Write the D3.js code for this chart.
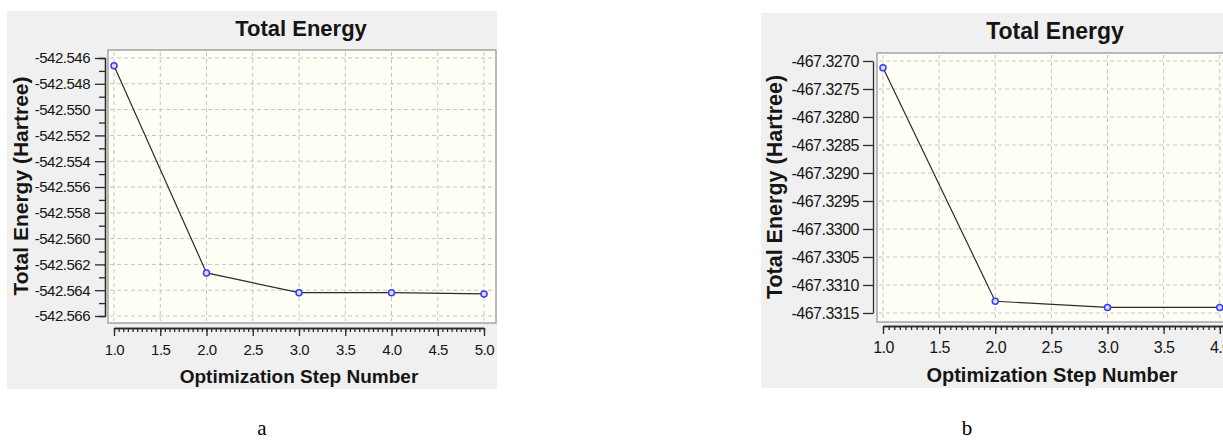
<!DOCTYPE html>
<html>
<head>
<meta charset="utf-8">
<script src="https://cdn.jsdelivr.net/npm/d3@7"></script>
<style>
    body { margin: 0; background: #fff; }
    text { font-family: "Liberation Sans", Arial, sans-serif; fill: #151515; }
</style>
</head>
<body>
<svg id="fig" width="1223" height="440"></svg>
<script>
// panel a
const stepsA = [1, 2, 3, 4, 5];
const energyA = [-542.5466, -542.56266, -542.56419, -542.56419, -542.56429];
const yTicksA = [-542.546, -542.548, -542.550, -542.552, -542.554, -542.556, -542.558, -542.560, -542.562, -542.564, -542.566];
const xTicksA = [1.0, 1.5, 2.0, 2.5, 3.0, 3.5, 4.0, 4.5, 5.0];

// panel b (right edge of the picture cuts it after step 4)
const stepsB = [1, 2, 3, 4];
const energyB = [-467.32712, -467.33129, -467.33140, -467.33140];
const yTicksB = [-467.3270, -467.3275, -467.3280, -467.3285, -467.3290, -467.3295, -467.3300, -467.3305, -467.3310, -467.3315];
const xTicksB = [1.0, 1.5, 2.0, 2.5, 3.0, 3.5, 4.0, 4.5, 5.0];

class EnergyChart {
    constructor(config, steps, energy) {
        this.config = config;
        this.steps = steps;
        this.energy = energy;
        this.init();
        this.render();
    }

    init() {
        let self = this;
        let c = self.config;
        self.g = d3.select('#fig').append('g');

        // grey window background
        self.g.append('rect')
            .attr('x', c.bg[0]).attr('y', c.bg[1])
            .attr('width', c.bg[2]).attr('height', c.bg[3])
            .attr('fill', '#f0f0f0');

        // plot area
        self.g.append('rect')
            .attr('x', c.plot[0]).attr('y', c.plot[1])
            .attr('width', c.plot[2]).attr('height', c.plot[3])
            .attr('fill', '#fffff6')
            .attr('stroke', '#a4a4a4')
            .attr('stroke-width', 1.5);

        self.xscale = d3.scaleLinear().domain(c.xdomain).range(c.xrange);
        self.yscale = d3.scaleLinear().domain(c.ydomain).range(c.yrange);
    }

    render() {
        let self = this;
        let c = self.config;

        // dashed grid
        let grid = self.g.append('g')
            .attr('stroke', '#c4c4c4')
            .attr('stroke-dasharray', '4,3')
            .attr('stroke-width', 1);
        grid.selectAll('.gx')
            .data(c.xticks)
            .join('line')
            .attr('x1', d => self.xscale(d)).attr('x2', d => self.xscale(d))
            .attr('y1', c.plot[1] + 2).attr('y2', c.plot[1] + c.plot[3] - 2);
        grid.selectAll('.gy')
            .data(c.yticks)
            .join('line')
            .attr('y1', d => self.yscale(d)).attr('y2', d => self.yscale(d))
            .attr('x1', c.plot[0] + 2).attr('x2', c.plot[0] + c.plot[2] - 2);

        // y axis
        if (c.yminor) {
            let yminor = d3.axisLeft(self.yscale)
                .tickValues(c.yminor)
                .tickSize(6)
                .tickFormat('');
            self.g.append('g')
                .attr('transform', `translate(${c.yaxisX}, 0)`)
                .call(yminor);
        }
        const fmt = d3.format(c.yfmt);
        let yaxis = d3.axisLeft(self.yscale)
            .tickValues(c.yticks)
            .tickSize(10)
            .tickSizeOuter(0)
            .tickPadding(c.ypad)
            .tickFormat(d => fmt(d).replace('\u2212', '-'));
        self.g.append('g')
            .attr('transform', `translate(${c.yaxisX}, 0)`)
            .call(yaxis);

        // x axis
        let xminor = d3.axisBottom(self.xscale)
            .tickValues(d3.range(c.xdomain[0], c.xdomain[1] + 0.001, 0.05))
            .tickSize(4)
            .tickSizeOuter(0)
            .tickFormat('');
        self.g.append('g')
            .attr('transform', `translate(0, ${c.xaxisY})`)
            .call(xminor);
        let xaxis = d3.axisBottom(self.xscale)
            .tickValues(c.xticks)
            .tickSize(8)
            .tickSizeOuter(0)
            .tickPadding(c.xpad)
            .tickFormat(d3.format('.1f'));
        self.g.append('g')
            .attr('transform', `translate(0, ${c.xaxisY})`)
            .call(xaxis);

        self.g.selectAll('.domain, .tick line')
            .attr('stroke', '#2a2a2a')
            .attr('stroke-width', 1.3);
        self.g.selectAll('.tick text')
            .attr('fill', '#151515')
            .style('font-family', '"Liberation Sans", Arial, sans-serif')
            .style('font-size', c.tickFont + 'px')
            .style('letter-spacing', '-0.5px');

        // energy line and markers
        let pts = self.steps.map((s, i) => [s, self.energy[i]]);
        self.g.append('path')
            .datum(pts)
            .attr('fill', 'none')
            .attr('stroke', '#2b2b2b')
            .attr('stroke-width', 1.2)
            .attr('d', d3.line().x(d => self.xscale(d[0])).y(d => self.yscale(d[1])));
        self.g.selectAll('.pt')
            .data(pts)
            .join('circle')
            .attr('cx', d => self.xscale(d[0]))
            .attr('cy', d => self.yscale(d[1]))
            .attr('r', 3)
            .attr('fill', '#dcdcff')
            .attr('stroke', '#3a3aff')
            .attr('stroke-width', 1.5);

        // titles
        self.g.append('text')
            .attr('x', c.title[0]).attr('y', c.title[1])
            .attr('text-anchor', 'middle').attr('dominant-baseline', 'central')
            .style('font-weight', 'bold').style('font-size', c.title[2] + 'px')
            .text('Total Energy');
        self.g.append('text')
            .attr('x', c.xlabel[0]).attr('y', c.xlabel[1])
            .attr('text-anchor', 'middle').attr('dominant-baseline', 'central')
            .style('font-weight', 'bold').style('font-size', c.xlabel[2] + 'px')
            .text('Optimization Step Number');
        self.g.append('text')
            .attr('transform', `translate(${c.ylabel[0]}, ${c.ylabel[1]}) rotate(-90)`)
            .attr('text-anchor', 'middle').attr('dominant-baseline', 'central')
            .style('font-weight', 'bold').style('font-size', c.ylabel[2] + 'px')
            .text('Total Energy (Hartree)');

        // caption under the panel
        self.g.append('text')
            .attr('x', c.caption[0]).attr('y', c.caption[1])
            .attr('text-anchor', 'middle')
            .style('font-family', '"Liberation Serif", "Times New Roman", serif')
            .style('font-size', '21px')
            .style('fill', '#000')
            .text(c.caption[2]);
    }
}

new EnergyChart({
    bg: [7, 11, 490, 378],
    plot: [108, 50, 388, 273],
    xdomain: [1, 5], xrange: [114, 484],
    ydomain: [-542.566, -542.546], yrange: [316, 58],
    xticks: xTicksA, yticks: yTicksA,
    yminor: yTicksA.slice(1).map((d, i) => (d + yTicksA[i]) / 2),
    yaxisX: 105, xaxisY: 328,
    ypad: 5, xpad: 8, yfmt: '.3f', tickFont: 15,
    title: [301, 28, 22],
    xlabel: [299, 376, 19],
    ylabel: [20, 186, 21],
    caption: [262, 435, 'a']
}, stepsA, energyA);

new EnergyChart({
    bg: [761, 13, 480, 375],
    plot: [877, 53, 460, 269],
    xdomain: [1, 5], xrange: [883, 1332],
    ydomain: [-467.3315, -467.3270], yrange: [313, 61],
    xticks: xTicksB, yticks: yTicksB,
    yminor: null,
    yaxisX: 873, xaxisY: 326,
    ypad: 4, xpad: 8, yfmt: '.4f', tickFont: 16,
    title: [1055, 31, 23],
    xlabel: [1052, 375, 20],
    ylabel: [775, 187, 21.5],
    caption: [967, 435, 'b']
}, stepsB, energyB);
</script>
</body>
</html>
